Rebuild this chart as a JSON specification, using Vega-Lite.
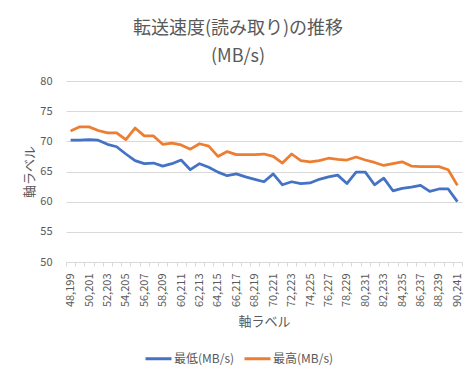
{
  "$schema": "https://vega.github.io/schema/vega-lite/v6.json",
  "autosize": "none",
  "width": 396,
  "height": 181,
  "padding": {"left": 66, "top": 81, "right": 14, "bottom": 117},
  "background": "white",
  "title": {
    "text": ["転送速度(読み取り)の推移", "(MB/s)"],
    "font": "Noto Sans CJK JP",
    "fontSize": 18,
    "fontWeight": "normal",
    "color": "#595959",
    "lineHeight": 28,
    "anchor": "middle",
    "frame": "group",
    "dx": -26,
    "offset": 9
  },
  "data": {"values": [
    {"x": "48,199", "s": "最低(MB/s)", "v": 70.2}, {"x": "48,199", "s": "最高(MB/s)", "v": 71.7},
    {"x": "49,200", "s": "最低(MB/s)", "v": 70.2}, {"x": "49,200", "s": "最高(MB/s)", "v": 72.4},
    {"x": "50,201", "s": "最低(MB/s)", "v": 70.3}, {"x": "50,201", "s": "最高(MB/s)", "v": 72.4},
    {"x": "51,202", "s": "最低(MB/s)", "v": 70.2}, {"x": "51,202", "s": "最高(MB/s)", "v": 71.8},
    {"x": "52,203", "s": "最低(MB/s)", "v": 69.5}, {"x": "52,203", "s": "最高(MB/s)", "v": 71.4},
    {"x": "53,204", "s": "最低(MB/s)", "v": 69.1}, {"x": "53,204", "s": "最高(MB/s)", "v": 71.4},
    {"x": "54,205", "s": "最低(MB/s)", "v": 67.9}, {"x": "54,205", "s": "最高(MB/s)", "v": 70.3},
    {"x": "55,206", "s": "最低(MB/s)", "v": 66.8}, {"x": "55,206", "s": "最高(MB/s)", "v": 72.2},
    {"x": "56,207", "s": "最低(MB/s)", "v": 66.3}, {"x": "56,207", "s": "最高(MB/s)", "v": 70.9},
    {"x": "57,208", "s": "最低(MB/s)", "v": 66.4}, {"x": "57,208", "s": "最高(MB/s)", "v": 70.9},
    {"x": "58,209", "s": "最低(MB/s)", "v": 65.9}, {"x": "58,209", "s": "最高(MB/s)", "v": 69.5},
    {"x": "59,210", "s": "最低(MB/s)", "v": 66.3}, {"x": "59,210", "s": "最高(MB/s)", "v": 69.7},
    {"x": "60,211", "s": "最低(MB/s)", "v": 66.9}, {"x": "60,211", "s": "最高(MB/s)", "v": 69.4},
    {"x": "61,212", "s": "最低(MB/s)", "v": 65.3}, {"x": "61,212", "s": "最高(MB/s)", "v": 68.7},
    {"x": "62,213", "s": "最低(MB/s)", "v": 66.3}, {"x": "62,213", "s": "最高(MB/s)", "v": 69.6},
    {"x": "63,214", "s": "最低(MB/s)", "v": 65.7}, {"x": "63,214", "s": "最高(MB/s)", "v": 69.2},
    {"x": "64,215", "s": "最低(MB/s)", "v": 64.9}, {"x": "64,215", "s": "最高(MB/s)", "v": 67.5},
    {"x": "65,216", "s": "最低(MB/s)", "v": 64.3}, {"x": "65,216", "s": "最高(MB/s)", "v": 68.3},
    {"x": "66,217", "s": "最低(MB/s)", "v": 64.6}, {"x": "66,217", "s": "最高(MB/s)", "v": 67.8},
    {"x": "67,218", "s": "最低(MB/s)", "v": 64.1}, {"x": "67,218", "s": "最高(MB/s)", "v": 67.8},
    {"x": "68,219", "s": "最低(MB/s)", "v": 63.7}, {"x": "68,219", "s": "最高(MB/s)", "v": 67.8},
    {"x": "69,220", "s": "最低(MB/s)", "v": 63.3}, {"x": "69,220", "s": "最高(MB/s)", "v": 67.9},
    {"x": "70,221", "s": "最低(MB/s)", "v": 64.6}, {"x": "70,221", "s": "最高(MB/s)", "v": 67.5},
    {"x": "71,222", "s": "最低(MB/s)", "v": 62.8}, {"x": "71,222", "s": "最高(MB/s)", "v": 66.4},
    {"x": "72,223", "s": "最低(MB/s)", "v": 63.3}, {"x": "72,223", "s": "最高(MB/s)", "v": 67.9},
    {"x": "73,224", "s": "最低(MB/s)", "v": 63.0}, {"x": "73,224", "s": "最高(MB/s)", "v": 66.8},
    {"x": "74,225", "s": "最低(MB/s)", "v": 63.1}, {"x": "74,225", "s": "最高(MB/s)", "v": 66.6},
    {"x": "75,226", "s": "最低(MB/s)", "v": 63.7}, {"x": "75,226", "s": "最高(MB/s)", "v": 66.8},
    {"x": "76,227", "s": "最低(MB/s)", "v": 64.1}, {"x": "76,227", "s": "最高(MB/s)", "v": 67.2},
    {"x": "77,228", "s": "最低(MB/s)", "v": 64.4}, {"x": "77,228", "s": "最高(MB/s)", "v": 67.0},
    {"x": "78,229", "s": "最低(MB/s)", "v": 63.0}, {"x": "78,229", "s": "最高(MB/s)", "v": 66.9},
    {"x": "79,230", "s": "最低(MB/s)", "v": 64.9}, {"x": "79,230", "s": "最高(MB/s)", "v": 67.4},
    {"x": "80,231", "s": "最低(MB/s)", "v": 64.9}, {"x": "80,231", "s": "最高(MB/s)", "v": 66.9},
    {"x": "81,232", "s": "最低(MB/s)", "v": 62.8}, {"x": "81,232", "s": "最高(MB/s)", "v": 66.5},
    {"x": "82,233", "s": "最低(MB/s)", "v": 63.9}, {"x": "82,233", "s": "最高(MB/s)", "v": 66.0},
    {"x": "83,234", "s": "最低(MB/s)", "v": 61.8}, {"x": "83,234", "s": "最高(MB/s)", "v": 66.3},
    {"x": "84,235", "s": "最低(MB/s)", "v": 62.2}, {"x": "84,235", "s": "最高(MB/s)", "v": 66.6},
    {"x": "85,236", "s": "最低(MB/s)", "v": 62.4}, {"x": "85,236", "s": "最高(MB/s)", "v": 65.9},
    {"x": "86,237", "s": "最低(MB/s)", "v": 62.7}, {"x": "86,237", "s": "最高(MB/s)", "v": 65.8},
    {"x": "87,238", "s": "最低(MB/s)", "v": 61.7}, {"x": "87,238", "s": "最高(MB/s)", "v": 65.8},
    {"x": "88,239", "s": "最低(MB/s)", "v": 62.1}, {"x": "88,239", "s": "最高(MB/s)", "v": 65.8},
    {"x": "89,240", "s": "最低(MB/s)", "v": 62.1}, {"x": "89,240", "s": "最高(MB/s)", "v": 65.3},
    {"x": "90,241", "s": "最低(MB/s)", "v": 60.0}, {"x": "90,241", "s": "最高(MB/s)", "v": 62.7}
  ]},
  "mark": {"type": "line", "strokeWidth": 2.75, "strokeJoin": "round"},
  "encoding": {
    "x": {
      "field": "x",
      "type": "ordinal",
      "sort": null,
      "scale": {"type": "band", "paddingInner": 0, "paddingOuter": 0},
      "axis": {
        "title": "軸ラベル",
        "labelAngle": 270,
        "labelOverlap": false,
        "labelExpr": "indexof(domain('x'), datum.value) % 2 == 0 ? datum.label : ''",
        "tickBand": "extent",
        "tickSize": 4,
        "labelPadding": 7,
        "titleBaseline": "middle",
        "titleY": 59,
        "grid": false
      }
    },
    "y": {
      "field": "v",
      "type": "quantitative",
      "scale": {"domain": [50, 80], "nice": false, "zero": false},
      "axis": {
        "title": "軸ラベル",
        "values": [50, 55, 60, 65, 70, 75, 80],
        "ticks": false,
        "domain": false,
        "labelPadding": 14,
        "titlePadding": 3,
        "grid": true
      }
    },
    "color": {
      "field": "s",
      "type": "nominal",
      "scale": {"domain": ["最低(MB/s)", "最高(MB/s)"], "range": ["#4472C4", "#ED7D31"]},
      "legend": {
        "title": null,
        "orient": "none",
        "legendX": 78,
        "legendY": 263,
        "direction": "horizontal",
        "symbolType": "stroke",
        "symbolSize": 676,
        "symbolStrokeWidth": 3,
        "labelOffset": 1,
        "columnPadding": 3
      }
    }
  },
  "config": {
    "font": "Noto Sans CJK JP",
    "view": {"stroke": null},
    "axis": {
      "labelFont": "Noto Sans CJK JP",
      "labelFontSize": 11,
      "labelColor": "#595959",
      "titleFont": "Noto Sans CJK JP",
      "titleFontSize": 13,
      "titleFontWeight": "normal",
      "titleColor": "#595959",
      "gridColor": "#D9D9D9",
      "gridWidth": 1,
      "domainColor": "#D9D9D9",
      "tickColor": "#D9D9D9"
    },
    "legend": {
      "labelFont": "Noto Sans CJK JP",
      "labelFontSize": 12,
      "labelColor": "#595959"
    }
  }
}
